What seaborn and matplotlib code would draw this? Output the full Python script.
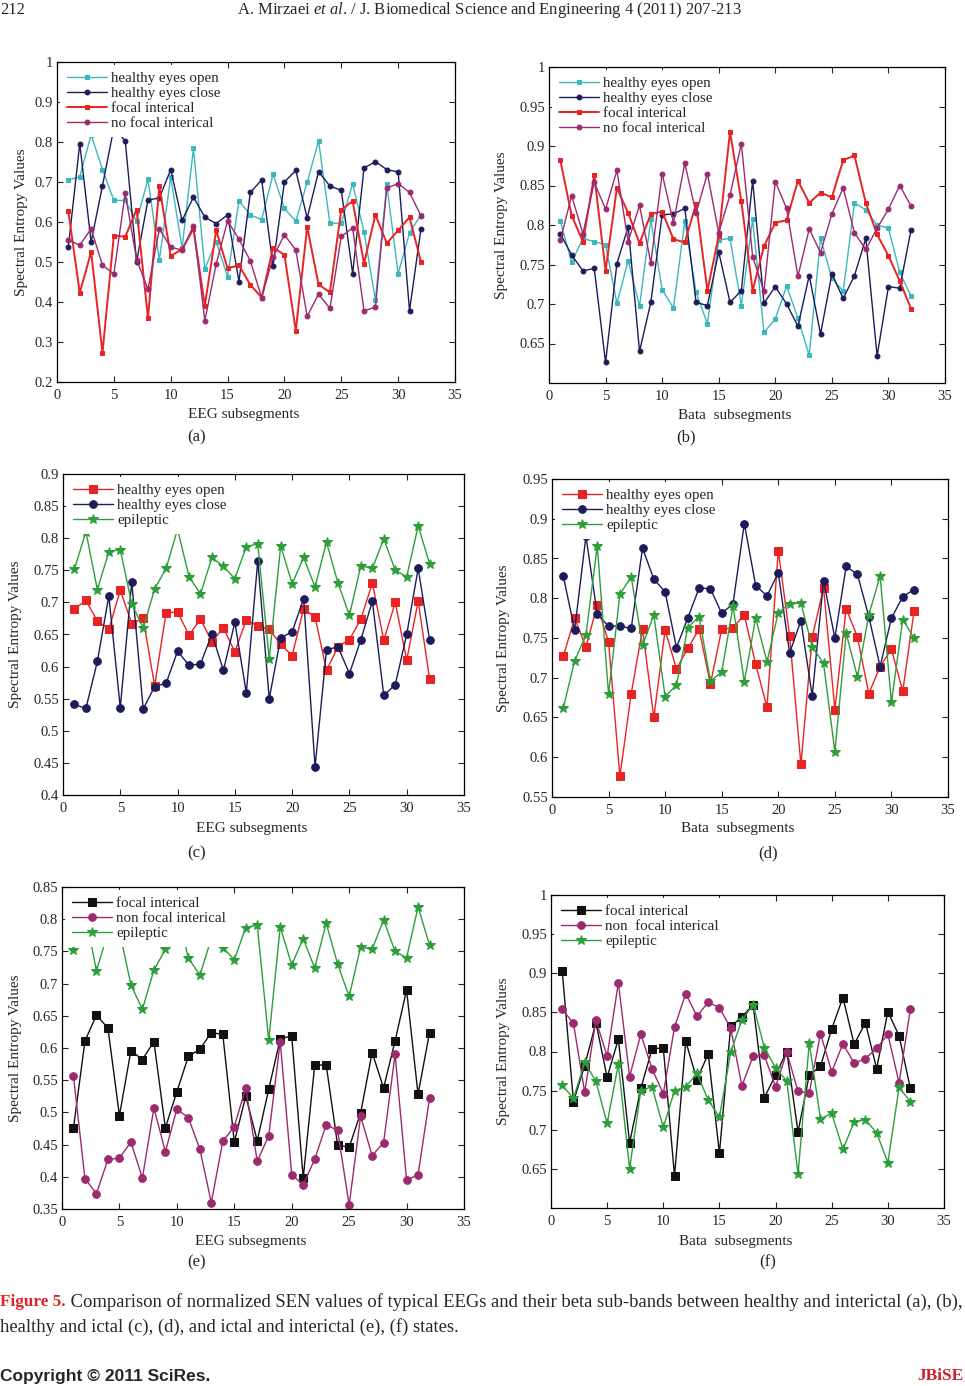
import matplotlib
matplotlib.use('Agg')
import matplotlib.pyplot as plt
import seaborn as sns
from matplotlib.ticker import FuncFormatter, MultipleLocator

# subsegment index shared by all panels
x = list(range(1, 33))

# (a) EEG, healthy vs interictal
a_open = [0.705, 0.713, 0.818, 0.731, 0.654, 0.654, 0.602, 0.707, 0.505, 0.712, 0.535, 0.784, 0.483, 0.551, 0.463, 0.653,
          0.618, 0.606, 0.719, 0.634, 0.602, 0.699, 0.803, 0.597, 0.597, 0.696, 0.575, 0.405, 0.694, 0.470, 0.573, 0.618]
a_close = [0.538, 0.796, 0.550, 0.691, 0.835, 0.803, 0.501, 0.655, 0.660, 0.731, 0.604, 0.662, 0.612, 0.596, 0.618, 0.451,
           0.674, 0.705, 0.491, 0.700, 0.729, 0.610, 0.726, 0.690, 0.679, 0.471, 0.735, 0.751, 0.731, 0.725, 0.378, 0.582]
a_focal = [0.627, 0.423, 0.525, 0.273, 0.566, 0.563, 0.631, 0.360, 0.689, 0.515, 0.532, 0.583, 0.391, 0.579, 0.484, 0.492,
           0.443, 0.411, 0.536, 0.518, 0.328, 0.588, 0.444, 0.424, 0.631, 0.652, 0.496, 0.618, 0.547, 0.579, 0.612, 0.501]
a_nonfocal = [0.555, 0.542, 0.583, 0.492, 0.470, 0.672, 0.506, 0.432, 0.582, 0.537, 0.530, 0.590, 0.353, 0.495, 0.603, 0.557,
              0.503, 0.411, 0.512, 0.568, 0.530, 0.364, 0.420, 0.384, 0.564, 0.585, 0.378, 0.387, 0.685, 0.696, 0.674, 0.616]

# (b) beta band, healthy vs interictal
b_open = [0.805, 0.753, 0.783, 0.779, 0.775, 0.701, 0.755, 0.697, 0.807, 0.718, 0.695, 0.805, 0.715, 0.675, 0.781, 0.783,
          0.698, 0.807, 0.664, 0.681, 0.723, 0.682, 0.635, 0.783, 0.733, 0.716, 0.828, 0.819, 0.800, 0.796, 0.740, 0.710]
b_close = [0.789, 0.762, 0.742, 0.745, 0.626, 0.751, 0.798, 0.640, 0.702, 0.813, 0.814, 0.821, 0.702, 0.698, 0.766, 0.702,
           0.717, 0.856, 0.701, 0.722, 0.700, 0.672, 0.736, 0.662, 0.738, 0.707, 0.736, 0.783, 0.634, 0.722, 0.720, 0.794]
b_focal = [0.882, 0.812, 0.779, 0.863, 0.742, 0.847, 0.815, 0.777, 0.814, 0.817, 0.782, 0.778, 0.827, 0.717, 0.786, 0.918,
           0.830, 0.717, 0.773, 0.803, 0.806, 0.856, 0.828, 0.841, 0.835, 0.882, 0.888, 0.828, 0.788, 0.761, 0.729, 0.694]
b_nonfocal = [0.781, 0.837, 0.789, 0.854, 0.820, 0.869, 0.779, 0.825, 0.752, 0.865, 0.803, 0.878, 0.815, 0.865, 0.790, 0.838,
              0.903, 0.760, 0.716, 0.855, 0.821, 0.735, 0.795, 0.765, 0.814, 0.847, 0.790, 0.769, 0.796, 0.820, 0.850, 0.824]

# (c) EEG, healthy vs ictal (epileptic series reused in (e))
c_open = [0.690, 0.703, 0.671, 0.658, 0.719, 0.667, 0.675, 0.570, 0.684, 0.685, 0.649, 0.674, 0.639, 0.660, 0.623, 0.673,
          0.663, 0.658, 0.635, 0.617, 0.690, 0.677, 0.594, 0.631, 0.642, 0.674, 0.730, 0.641, 0.700, 0.610, 0.702, 0.580]
c_close = [0.541, 0.535, 0.608, 0.710, 0.536, 0.732, 0.534, 0.569, 0.574, 0.624, 0.602, 0.604, 0.651, 0.594, 0.669, 0.559,
           0.765, 0.550, 0.645, 0.654, 0.706, 0.444, 0.626, 0.631, 0.589, 0.642, 0.702, 0.555, 0.572, 0.650, 0.753, 0.641]
epileptic = [0.752, 0.810, 0.720, 0.779, 0.782, 0.698, 0.660, 0.721, 0.753, 0.814, 0.740, 0.713, 0.770, 0.756, 0.737, 0.787,
             0.791, 0.612, 0.788, 0.729, 0.770, 0.724, 0.794, 0.730, 0.680, 0.757, 0.753, 0.799, 0.750, 0.740, 0.819, 0.760]

# (d) beta band, healthy vs ictal
d_open = [0.727, 0.775, 0.739, 0.791, 0.745, 0.576, 0.680, 0.761, 0.650, 0.760, 0.711, 0.737, 0.761, 0.692, 0.761, 0.763,
          0.779, 0.717, 0.663, 0.860, 0.753, 0.591, 0.751, 0.813, 0.660, 0.787, 0.751, 0.680, 0.714, 0.736, 0.683, 0.784]
d_close = [0.828, 0.760, 0.878, 0.780, 0.765, 0.765, 0.762, 0.863, 0.824, 0.808, 0.738, 0.775, 0.813, 0.812, 0.781, 0.793,
           0.894, 0.816, 0.803, 0.832, 0.731, 0.772, 0.677, 0.822, 0.750, 0.840, 0.830, 0.777, 0.714, 0.775, 0.802, 0.811]
d_epileptic = [0.662, 0.721, 0.754, 0.866, 0.679, 0.805, 0.827, 0.741, 0.779, 0.676, 0.691, 0.763, 0.777, 0.696, 0.707, 0.790,
               0.695, 0.775, 0.720, 0.782, 0.793, 0.794, 0.739, 0.718, 0.607, 0.756, 0.701, 0.779, 0.828, 0.669, 0.773, 0.750]

# (e) EEG, ictal vs interictal
e_focal = [0.476, 0.611, 0.651, 0.631, 0.495, 0.596, 0.582, 0.610, 0.476, 0.532, 0.587, 0.598, 0.624, 0.621, 0.454, 0.525,
           0.456, 0.536, 0.614, 0.619, 0.398, 0.573, 0.574, 0.449, 0.446, 0.499, 0.593, 0.538, 0.611, 0.690, 0.528, 0.624]
e_nonfocal = [0.556, 0.397, 0.374, 0.427, 0.429, 0.454, 0.398, 0.507, 0.439, 0.505, 0.492, 0.443, 0.360, 0.455, 0.478, 0.538,
              0.424, 0.464, 0.610, 0.403, 0.388, 0.427, 0.481, 0.472, 0.356, 0.494, 0.433, 0.453, 0.590, 0.395, 0.403, 0.522]

# (f) beta band, ictal vs interictal
f_focal = [0.903, 0.736, 0.782, 0.837, 0.767, 0.816, 0.683, 0.753, 0.803, 0.805, 0.641, 0.813, 0.764, 0.797, 0.670, 0.832,
           0.844, 0.860, 0.741, 0.770, 0.800, 0.697, 0.770, 0.781, 0.829, 0.869, 0.809, 0.837, 0.778, 0.851, 0.820, 0.753]
f_nonfocal = [0.854, 0.836, 0.748, 0.840, 0.794, 0.888, 0.768, 0.822, 0.778, 0.746, 0.831, 0.874, 0.845, 0.863, 0.856, 0.830,
              0.756, 0.794, 0.795, 0.755, 0.799, 0.749, 0.747, 0.823, 0.774, 0.810, 0.785, 0.791, 0.804, 0.822, 0.760, 0.854]
f_epileptic = [0.757, 0.740, 0.786, 0.762, 0.708, 0.784, 0.650, 0.750, 0.755, 0.703, 0.750, 0.755, 0.772, 0.738, 0.716, 0.799,
               0.840, 0.860, 0.805, 0.779, 0.762, 0.643, 0.811, 0.714, 0.721, 0.675, 0.710, 0.713, 0.696, 0.658, 0.754, 0.736]

CYAN = '#3bb8bc'
NAVY = '#1c1c5c'
RED = '#e82323'
PURPLE = '#9c2a6e'
GREEN = '#2e9e3a'
BLACK = '#111111'

sns.set_style('ticks')
plt.rcParams['font.family'] = ['Liberation Serif', 'DejaVu Serif']
plt.rcParams['mathtext.fontset'] = 'custom'
plt.rcParams['mathtext.rm'] = 'Liberation Serif'
plt.rcParams['mathtext.it'] = 'Liberation Serif:italic'

W, H = 965, 1386
fig = plt.figure(figsize=(W / 100, H / 100), dpi=100)


def box(l, r, t, b):
    return [l / W, 1 - b / H, (r - l) / W, (b - t) / H]


fmt = FuncFormatter(lambda v, p: f'{v:g}')

# series: (values, label, colour, marker, markersize, linewidth)
panels = [
    dict(pos=(57, 455, 62, 382), ylim=(0.2, 1), step=0.1, ymin_lab=0.2, xlabel='EEG subsegments',
         ylc=-0.073, xlc=-0.082, tag='(a)', tagxy=(197, 437),
         series=[(a_open, 'healthy eyes open', CYAN, 's', 3.5, 1.0),
                 (a_close, 'healthy eyes close', NAVY, 'o', 3.5, 1.0),
                 (a_focal, 'focal interical', RED, 's', 3.5, 1.4),
                 (a_nonfocal, 'no focal interical', PURPLE, 'o', 3.5, 1.0)]),
    dict(pos=(549, 945, 67, 383), ylim=(0.6, 1), step=0.05, ymin_lab=0.65, xlabel='Bata  subsegments',
         ylc=-0.104, xlc=-0.082, tag='(b)', tagxy=(686, 437),
         series=[(b_open, 'healthy eyes open', CYAN, 's', 3.5, 1.0),
                 (b_close, 'healthy eyes close', NAVY, 'o', 3.5, 1.0),
                 (b_focal, 'focal interical', RED, 's', 3.5, 1.4),
                 (b_nonfocal, 'no focal interical', PURPLE, 'o', 3.5, 1.0)]),
    dict(pos=(63, 464, 474, 795), ylim=(0.4, 0.9), step=0.05, ymin_lab=0.4, xlabel='EEG subsegments',
         ylc=-0.102, xlc=-0.084, tag='(c)', tagxy=(197, 853),
         series=[(c_open, 'healthy eyes open', RED, 's', 5.5, 1.0),
                 (c_close, 'healthy eyes close', NAVY, 'o', 5.5, 1.0),
                 (epileptic, 'epileptic', GREEN, '*', 7.5, 1.0)]),
    dict(pos=(552, 948, 479, 797), ylim=(0.55, 0.95), step=0.05, ymin_lab=0.55, xlabel='Bata  subsegments',
         ylc=-0.106, xlc=-0.079, tag='(d)', tagxy=(768, 853),
         series=[(d_open, 'healthy eyes open', RED, 's', 5.5, 1.0),
                 (d_close, 'healthy eyes close', NAVY, 'o', 5.5, 1.0),
                 (d_epileptic, 'epileptic', GREEN, '*', 7.5, 1.0)]),
    dict(pos=(62, 464, 887, 1209), ylim=(0.35, 0.85), step=0.05, ymin_lab=0.35, xlabel='EEG subsegments',
         ylc=-0.100, xlc=-0.081, tag='(e)', tagxy=(197, 1262),
         series=[(e_focal, 'focal interical', BLACK, 's', 5.5, 1.0),
                 (e_nonfocal, 'non focal interical', PURPLE, 'o', 5.5, 1.0),
                 (epileptic, 'epileptic', GREEN, '*', 7.5, 1.0)]),
    dict(pos=(551, 944, 895, 1208), ylim=(0.6, 1), step=0.05, ymin_lab=0.65, xlabel='Bata  subsegments',
         ylc=-0.104, xlc=-0.086, tag='(f)', tagxy=(768, 1262),
         series=[(f_focal, 'focal interical', BLACK, 's', 5.5, 1.0),
                 (f_nonfocal, 'non  focal interical', PURPLE, 'o', 5.5, 1.0),
                 (f_epileptic, 'epileptic', GREEN, '*', 7.5, 1.0)]),
]

for p in panels:
    ax = fig.add_axes(box(*p['pos']))
    for vals, lab, col, mk, ms, lw in p['series']:
        sns.lineplot(x=x, y=vals, ax=ax, color=col, marker=mk, markersize=ms, linewidth=lw,
                     markeredgecolor=col, markerfacecolor=col, label=lab)
    ax.set_xlim(0, 35)
    ax.set_ylim(*p['ylim'])
    ax.xaxis.set_major_locator(MultipleLocator(5))
    lo, hi = p['ylim']
    n = int(round((hi - p['ymin_lab']) / p['step']))
    ax.set_yticks([round(p['ymin_lab'] + i * p['step'], 3) for i in range(n + 1)])
    ax.xaxis.set_major_formatter(fmt)
    ax.yaxis.set_major_formatter(fmt)
    ax.tick_params(direction='in', top=True, right=True, length=4, width=0.8,
                   labelsize=10.5, pad=3)
    ax.tick_params(axis='x', pad=5)
    for s in ax.spines.values():
        s.set_linewidth(0.9)
        s.set_color('black')
    ax.set_xlabel(p['xlabel'], fontsize=11)
    ax.set_ylabel('Spectral Entropy Values', fontsize=11)
    ax.xaxis.set_label_coords(0.47, p['xlc'])
    ax.yaxis.set_label_coords(p['ylc'], 0.5)
    leg = ax.legend(loc='upper left', fontsize=10.8, frameon=True, facecolor='white', edgecolor='white',
                    framealpha=1, fancybox=False, handlelength=2.7, handletextpad=0.25,
                    labelspacing=0.1, borderpad=0.45, borderaxespad=0.2)
    leg.get_frame().set_linewidth(0)
    tx, ty = p['tagxy']
    fig.text(tx / W, 1 - ty / H, p['tag'], fontsize=12, ha='center', va='center')

# page header
fig.text(0.0, 1 - 10 / H, '212', fontsize=12, ha='left', va='center')
fig.text(489 / W, 1 - 10 / H, r'A. Mirzaei $\it{et\ al}$. / J. Biomedical Science and Engineering 4 (2011) 207-213',
         fontsize=12, ha='center', va='center')

# caption, "Figure 5." in red bold then the rest
renderer = fig.canvas.get_renderer()
cap_fs = 12.3
t1 = fig.text(0.0, 1 - 1302 / H, 'Figure 5.', fontsize=cap_fs, color='#e0202a', fontweight='bold',
              ha='left', va='center')
w1 = t1.get_window_extent(renderer).width
line1 = ' Comparison of normalized SEN values of typical EEGs and their beta sub-bands between healthy and interictal (a), (b),'
t2 = fig.text(w1 / W, 1 - 1302 / H, line1, fontsize=cap_fs, ha='left', va='center')
w2 = t2.get_window_extent(renderer).width
scale = (W - 2 - w1) / w2
t2.set_fontsize(cap_fs * scale)
fig.text(0.0, 1 - 1327 / H, 'healthy and ictal (c), (d), and ictal and interictal (e), (f) states.',
         fontsize=cap_fs * scale, ha='left', va='center')

# footer
fig.text(0.0, 1 - 1376 / H, 'Copyright \u00a9 2011 SciRes.', fontsize=12.5, fontweight='bold',
         family=['Liberation Sans', 'DejaVu Sans'], ha='left', va='center')
fig.text(1 - 2 / W, 1 - 1376 / H, 'JBiSE', fontsize=12.5, fontweight='bold', color='#d0202a',
         ha='right', va='center')

fig.savefig('out.png', dpi=100)
